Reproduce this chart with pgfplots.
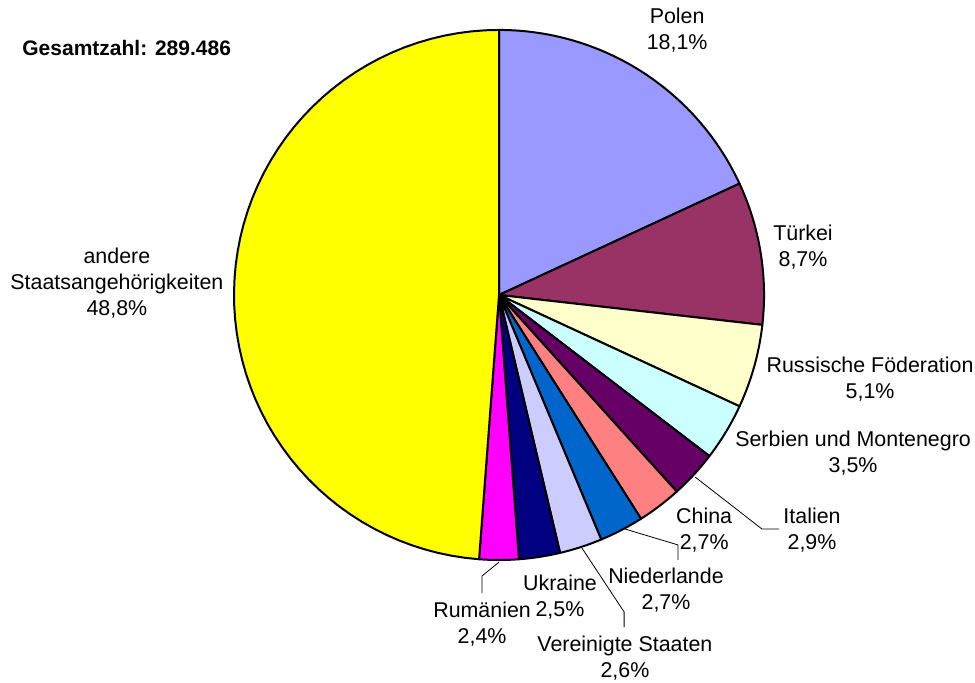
\documentclass[border=0pt]{standalone}
\usepackage{pgfplots}
\pgfplotsset{compat=1.18}
\usepackage{fontspec}
\setmainfont{Liberation Sans}

\definecolor{cPolen}{HTML}{9999FF}
\definecolor{cTuerkei}{HTML}{993366}
\definecolor{cRuss}{HTML}{FFFFCC}
\definecolor{cSerbien}{HTML}{CCFFFF}
\definecolor{cItalien}{HTML}{660066}
\definecolor{cChina}{HTML}{FF8080}
\definecolor{cNiederl}{HTML}{0066CC}
\definecolor{cUSA}{HTML}{CCCCFF}
\definecolor{cUkraine}{HTML}{000080}
\definecolor{cRumaen}{HTML}{FF00FF}
\definecolor{cAndere}{HTML}{FFFF00}

% #1 cumulative share before the slice (%), #2 share (%), #3 colour
% slices run clockwise from 12 o'clock
\newcommand\slice[3]{%
  \addplot[fill=#3, draw=black, line width=1pt, line join=round,
    domain=90-3.6*(#1+#2):90-3.6*(#1), samples=60]
    ({cos(x)}, {sin(x)}) -- (axis cs:0,0) -- cycle;
}

\tikzset{lbl/.style={align=center, inner sep=0pt, font=\fontsize{10.7}{13}\selectfont}}

\begin{document}
\begin{tikzpicture}
\begin{axis}[
  width=487.5pt, height=341.5pt, scale only axis,
  hide axis, clip=false,
  xmin=-1.883, xmax=1.796, ymin=-1.464, ymax=1.113,
]
  \path (rel axis cs:0,0) rectangle (rel axis cs:1,1);

  \slice{0}{18.1}{cPolen}
  \slice{18.1}{8.7}{cTuerkei}
  \slice{26.8}{5.1}{cRuss}
  \slice{31.9}{3.5}{cSerbien}
  \slice{35.4}{2.9}{cItalien}
  \slice{38.3}{2.7}{cChina}
  \slice{41.0}{2.7}{cNiederl}
  \slice{43.7}{2.6}{cUSA}
  \slice{46.3}{2.5}{cUkraine}
  \slice{48.8}{2.4}{cRumaen}
  \slice{51.2}{48.8}{cAndere}

  % leader lines
  \addplot[black, line width=0.4pt, no marks] coordinates {(0.740,-0.687) (0.992,-0.883) (1.057,-0.883)};
  \addplot[black, line width=0.4pt, no marks] coordinates {(0.475,-0.883) (0.675,-0.943) (0.675,-1.000)};
  \addplot[black, line width=0.4pt, no marks] coordinates {(0.313,-0.955) (0.472,-1.196) (0.472,-1.253)};
  \addplot[black, line width=0.4pt, no marks] coordinates {(0,-1.008) (-0.064,-1.060) (-0.064,-1.125)};

  \node[lbl] at (axis cs:0.672,1.000) {Polen\\18,1\%};
  \node[lbl] at (axis cs:1.147,0.181) {Türkei\\8,7\%};
  \node[lbl] at (axis cs:1.400,-0.317) {Russische Föderation\\5,1\%};
  \node[lbl] at (axis cs:1.336,-0.596) {Serbien und Montenegro\\3,5\%};
  \node[lbl] at (axis cs:1.181,-0.887) {Italien\\2,9\%};
  \node[lbl] at (axis cs:0.774,-0.887) {China\\2,7\%};
  \node[lbl] at (axis cs:0.630,-1.113) {Niederlande\\2,7\%};
  \node[lbl] at (axis cs:0.230,-1.140) {Ukraine\\2,5\%};
  \node[lbl] at (axis cs:-0.064,-1.242) {Rumänien\\2,4\%};
  \node[lbl] at (axis cs:0.475,-1.370) {Vereinigte Staaten\\2,6\%};
  \node[lbl] at (axis cs:-1.442,0.045) {andere\\Staatsangehörigkeiten\\48,8\%};
  \node[lbl, anchor=west, font=\fontsize{10.5}{13}\selectfont\bfseries] at (axis cs:-1.800,0.932) {Gesamtzahl: 289.486};
\end{axis}
\end{tikzpicture}
\end{document}
